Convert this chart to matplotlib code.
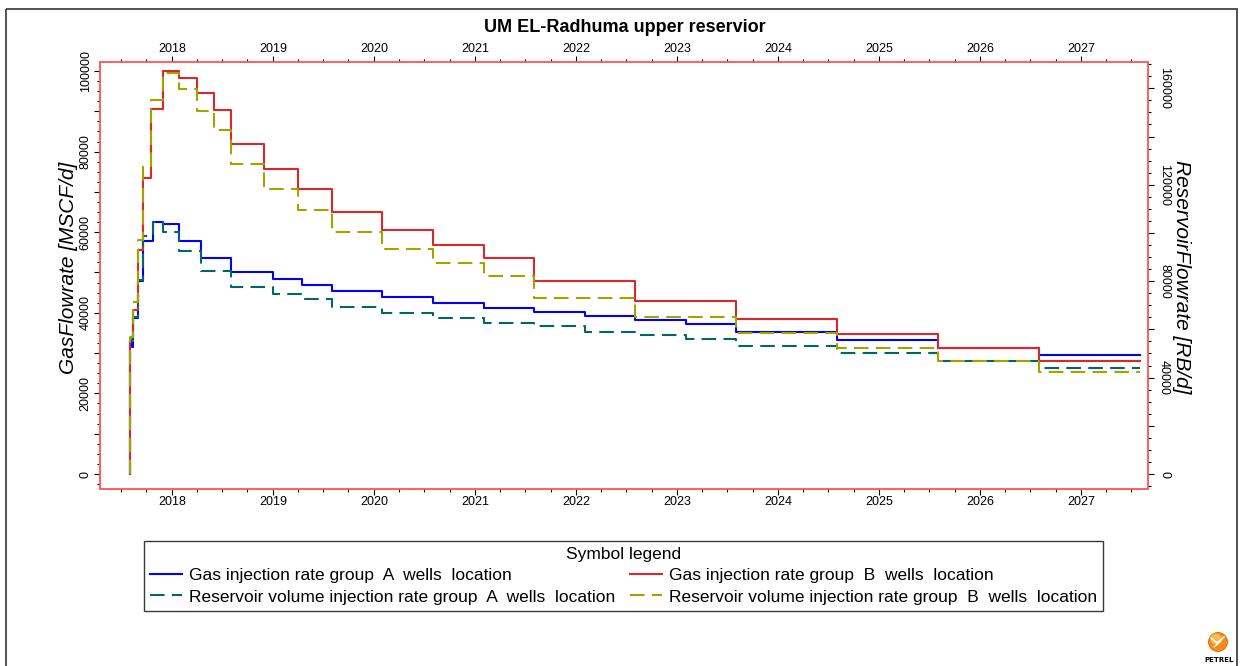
import matplotlib
matplotlib.use("Agg")
import numpy as np
import matplotlib.pyplot as plt
import matplotlib.dates as mdates
from matplotlib.ticker import MultipleLocator, FuncFormatter
from matplotlib.patches import Rectangle, Circle

plt.rcParams['font.family'] = ['Liberation Sans', 'DejaVu Sans']

# ---- report dates (step starts) and rates -------------------------------
dates_a = ['2017-08-01', '2017-08-02', '2017-08-08', '2017-08-13', '2017-09-01',
           '2017-09-20', '2017-10-23', '2017-12-01', '2018-01-28', '2018-04-15',
           '2018-08-01', '2019-01-01', '2019-04-15', '2019-08-01', '2020-02-01',
           '2020-08-01', '2021-02-01', '2021-08-01', '2022-02-01', '2022-08-01',
           '2023-02-01', '2023-08-01', '2024-08-01', '2025-08-01', '2026-08-01',
           '2027-08-01']
gas_rate_a = [0, 33300, 31500, 38700, 48000, 57900, 62500, 62000, 57900, 53700,
              50200, 48400, 46850, 45300, 43860, 42540, 41300, 40130, 39310, 38140,
              37320, 35250, 33340, 31200, 29600, 29600]
res_rate_a = [0, 55000, 56000, 65000, 80400, 98700, 104500, 100400, 92600, 84100,
              77600, 74600, 72400, 69350, 66860, 64660, 62460, 61350, 58990, 57620,
              55830, 53180, 50030, 46960, 44060, 44060]

dates_b = ['2017-08-01', '2017-08-02', '2017-08-13', '2017-09-01', '2017-09-20',
           '2017-10-19', '2017-12-01', '2018-01-28', '2018-04-01', '2018-06-01',
           '2018-08-01', '2018-12-01', '2019-04-01', '2019-08-01', '2020-02-01',
           '2020-08-01', '2021-02-01', '2021-08-01', '2022-08-01', '2023-08-01',
           '2024-08-01', '2025-08-01', '2026-08-01', '2027-08-01']
gas_rate_b = [0, 33000, 40800, 55700, 73400, 90500, 99950, 98300, 94540, 90300,
              81850, 75800, 70830, 65100, 60530, 56900, 53490, 47940, 42970, 38490,
              34750, 31270, 28110, 28110]
res_rate_b = [0, 57000, 71400, 97000, 127700, 155000, 166500, 159700, 150600, 142600,
              128800, 118100, 109700, 100430, 93400, 87330, 81950, 73080, 65080, 58500,
              52100, 46960, 42400, 42400]

labels = ['Gas injection rate group  A  wells  location',
          'Reservoir volume injection rate group  A  wells  location',
          'Gas injection rate group  B  wells  location',
          'Reservoir volume injection rate group  B  wells  location']

title = 'UM EL-Radhuma upper reservior'
left_label = 'GasFlowrate [MSCF/d]'
right_label = 'ReservoirFlowrate [RB/d]'

# ---- styles ---------------------------------------------------------------
C_GAS_A = '#0000FF'
C_GAS_B = '#D62A2A'
C_RES_A = '#006666'
C_RES_B = '#A3A300'
SPINE = '#FF5A5A'
LW = 1.5
DASH = (0, (7, 3.5))

W, H = 1244, 666
fig = plt.figure(figsize=(W / 100, H / 100), dpi=100)
fig.patch.set_facecolor('white')

ax = fig.add_axes([100 / W, 1 - 489 / H, 1048.3 / W, 427 / H])
ax2 = ax.twinx()

ta = np.array(dates_a, dtype='datetime64[D]')
tb = np.array(dates_b, dtype='datetime64[D]')

l1, = ax.step(ta, gas_rate_a, where='post', color=C_GAS_A, lw=LW, zorder=3)
l3, = ax.step(tb, gas_rate_b, where='post', color=C_GAS_B, lw=LW, zorder=4)
l2, = ax2.step(ta, res_rate_a, where='post', color=C_RES_A, lw=LW, ls=DASH, zorder=3)
l4, = ax2.step(tb, res_rate_b, where='post', color=C_RES_B, lw=LW, ls=DASH, zorder=4)

ax.set_xlim(np.datetime64('2017-04-16'), np.datetime64('2027-08-31'))
ax.set_ylim(-3722, 102233)
ax2.set_ylim(-6222, 170910)

# x axis: years on top and bottom, quarterly minor ticks
ax.xaxis.set_major_locator(mdates.YearLocator())
ax.xaxis.set_major_formatter(mdates.DateFormatter('%Y'))
ax.xaxis.set_minor_locator(mdates.MonthLocator(bymonth=[4, 7, 10]))
ax.tick_params(axis='x', which='both', top=True, bottom=True,
               labeltop=True, labelbottom=True, direction='out',
               labelsize=9, colors='black')
ax.tick_params(axis='x', which='major', length=4, width=0.8, pad=0.8)
ax.tick_params(axis='x', which='minor', length=2.2, width=0.8)


def every(step):
    return FuncFormatter(lambda v, p: f'{int(round(v))}' if int(round(v)) % step == 0 else '')


ax.yaxis.set_major_locator(MultipleLocator(10000))
ax.yaxis.set_minor_locator(MultipleLocator(2500))
ax.yaxis.set_major_formatter(every(20000))
ax.tick_params(axis='y', which='major', length=4, width=0.8, pad=2,
               labelsize=9, labelrotation=90, direction='out')
ax.tick_params(axis='y', which='minor', length=2.2, width=0.8, direction='out')
for t in ax.get_yticklabels():
    t.set_va('center')

ax2.yaxis.set_major_locator(MultipleLocator(20000))
ax2.yaxis.set_minor_locator(MultipleLocator(5000))
ax2.yaxis.set_major_formatter(every(40000))
ax2.tick_params(axis='y', which='major', length=4, width=0.8, pad=3,
                labelsize=9, labelrotation=-90, direction='out')
ax2.tick_params(axis='y', which='minor', length=2.2, width=0.8, direction='out')
for t in ax2.get_yticklabels():
    t.set_va('center')

for a in (ax, ax2):
    for s in a.spines.values():
        s.set_color(SPINE)
        s.set_linewidth(1.1)

fig.text(625 / W, 1 - 27 / H, title, ha='center', va='center',
         fontsize=13, fontweight='bold')
fig.text(68 / W, 1 - 268 / H, left_label, ha='center', va='center',
         rotation=90, fontsize=15, fontstyle='italic')
fig.text(1181 / W, 1 - 277 / H, right_label, ha='center', va='center',
         rotation=270, fontsize=15, fontstyle='italic')

leg = fig.legend([l1, l2, l3, l4], labels, ncol=2, mode='expand',
                 loc='upper left',
                 bbox_to_anchor=(144 / W, 1 - 612 / H, 959 / W, 71 / H),
                 title='Symbol legend', fontsize=12.5, title_fontsize=12.5,
                 frameon=True, fancybox=False, edgecolor='#3a3a3a',
                 framealpha=1, borderpad=0.35, labelspacing=0.35,
                 handlelength=1.85, handletextpad=0.4, columnspacing=0.45,
                 borderaxespad=0)
leg.get_frame().set_linewidth(1.0)

# overlay in pixel coordinates for the page frame and the logo
ov = fig.add_axes([0, 0, 1, 1], zorder=-1)
ov.set_xlim(0, W)
ov.set_ylim(H, 0)
ov.axis('off')
ov.add_patch(Rectangle((6, 9), 1231, 720, fill=False, edgecolor='#333333',
                       lw=1.2, clip_on=False))
ov.add_patch(Circle((1218, 642), 9.5, facecolor='#F28C1A', edgecolor='#D86A00',
                    lw=0.6))
ov.add_patch(Circle((1216, 639), 5.5, facecolor='#FFC35A', edgecolor='none',
                    alpha=0.8))
ov.plot([1211, 1217, 1224], [638, 643, 637], color='white', lw=1.2,
        solid_capstyle='round')
ov.plot([1214, 1221], [647, 641], color='white', lw=1.0, solid_capstyle='round')
ov.text(1219, 660, 'PETREL', ha='center', va='center', fontsize=5,
        fontweight='bold', family='DejaVu Sans')

fig.savefig('out.png', dpi=100)
